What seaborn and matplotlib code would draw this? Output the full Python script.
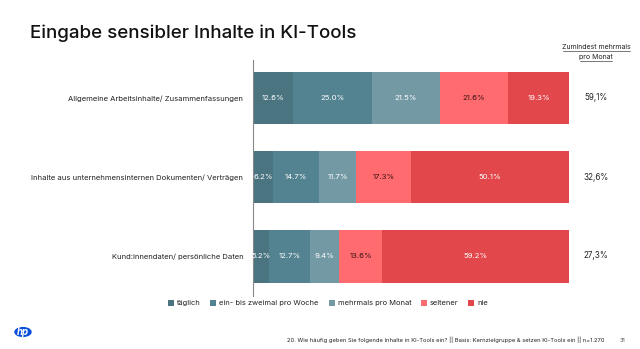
import matplotlib
matplotlib.use("Agg")
import matplotlib.pyplot as plt
import seaborn as sns
import numpy as np
import pandas as pd
from matplotlib.patches import Circle, Patch

categories = ["Allgemeine Arbeitsinhalte/ Zusammenfassungen",
              "Inhalte aus unternehmensinternen Dokumenten/ Verträgen",
              "Kund:innendaten/ persönliche Daten"]
series_names = ["täglich", "ein- bis zweimal pro Woche", "mehrmals pro Monat", "seltener", "nie"]
taeglich = [12.6, 6.2, 5.2]
woche = [25.0, 14.7, 12.7]
monat = [21.5, 11.7, 9.4]
seltener = [21.6, 17.3, 13.6]
nie = [19.3, 50.1, 59.2]
totals = ["59,1%", "32,6%", "27,3%"]
colors = ["#4A7480", "#538290", "#7399A5", "#FF6B6E", "#E2474B"]
text_colors = ["white", "white", "white", "#3a1414", "white"]

series = [taeglich, woche, monat, seltener, nie]

sns.set_theme(style="white")
plt.rcParams['font.family'] = ['Inter', 'DejaVu Sans']

fig = plt.figure(figsize=(6.4, 3.49), dpi=100)
ax = fig.add_axes([253/640, 1-296/349, (569-253)/640, (296-60)/349])

arr = np.array(series)
cum = np.cumsum(arr, axis=0)
# draw from total to first so earlier segments overlay
for k in range(len(series)-1, -1, -1):
    df = pd.DataFrame({"cat": categories, "val": cum[k]})
    sns.barplot(data=df, x="val", y="cat", orient="h", color=colors[k],
                width=0.66, ax=ax, saturation=1, linewidth=0)

# segment labels
for k in range(len(series)):
    for i in range(len(categories)):
        start = cum[k][i] - arr[k][i]
        ax.text(start + arr[k][i]/2, i, f"{arr[k][i]:.1f}%", ha="center", va="center",
                fontsize=5.6, color=text_colors[k])

ax.set_xlim(0, 100)
ax.set_ylim(2.5, -0.48)
ax.set_xlabel("")
ax.set_ylabel("")
ax.set_xticks([])
ax.set_yticks(range(len(categories)))
ax.set_yticklabels(categories, fontsize=5.5, color="#222222")
ax.tick_params(axis="y", length=0, pad=7)
for s in ["top", "right", "bottom"]:
    ax.spines[s].set_visible(False)
ax.spines["left"].set_color("#888888")
ax.spines["left"].set_linewidth(0.8)

# totals
xc = 596/640
for i, t in enumerate(totals):
    fig.text(xc, 1-[98, 177, 256][i]/349, t, ha="center", va="center", fontsize=5.8, color="#222222")
fig.text(xc, 1-47/349, "Zumindest mehrmals", ha="center", va="center", fontsize=5, color="#222222")
fig.text(xc, 1-56.5/349, "pro Monat", ha="center", va="center", fontsize=5, color="#222222")
fig.add_artist(plt.Line2D([563/640, 630/640], [1-51/349]*2, color="#444444", lw=0.5))
fig.add_artist(plt.Line2D([580/640, 612/640], [1-60.5/349]*2, color="#444444", lw=0.5))

# title
fig.text(30/640, 1-33/349, "Eingabe sensibler Inhalte in KI-Tools", ha="left", va="center",
         fontsize=13.5, color="#111111", fontweight="medium")

# legend
handles = [Patch(facecolor=c, edgecolor="none") for c in colors]
fig.legend(handles, series_names, loc="center", bbox_to_anchor=(328/640, 1-303/349), ncol=5,
           frameon=False, fontsize=5.4, handlelength=0.8, handleheight=0.8, handletextpad=0.4,
           columnspacing=1.3, labelcolor="#222222")

# footer
fig.text(287/640, 1-340/349,
         "20. Wie häufig geben Sie folgende Inhalte in KI-Tools ein? || Basis: Kernzielgruppe & setzen KI-Tools ein || n=1.270",
         ha="left", va="center", fontsize=4.2, color="#222222")
fig.text(622/640, 1-340/349, "31", ha="center", va="center", fontsize=4, color="#444444")

# HP logo
logo = Circle((23/640, 1-332/349), 8/640, transform=fig.transFigure, color="#0A4FD6")
fig.add_artist(logo)
fig.text(23/640, 1-332/349, "hp", ha="center", va="center", fontsize=7, color="white",
         fontstyle="italic", fontweight="bold")

fig.savefig("out.png", dpi=100)
